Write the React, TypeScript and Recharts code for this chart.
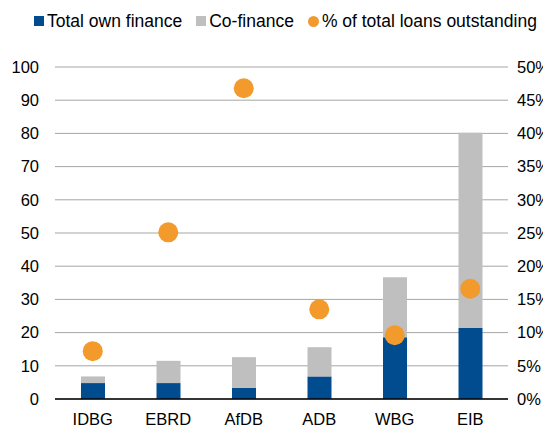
import React from 'react';
import { ComposedChart, Bar, Scatter, XAxis, YAxis, CartesianGrid } from 'recharts';

const banks = ['IDBG', 'EBRD', 'AfDB', 'ADB', 'WBG', 'EIB'];
const ownFinance = [4.8, 4.8, 3.4, 6.8, 18.6, 21.4];
const coFinance = [2.0, 6.7, 9.2, 8.8, 18.1, 58.8];
const shareOfLoans = [7.2, 25.1, 46.8, 13.5, 9.6, 16.6];

const leftTicks = [0, 10, 20, 30, 40, 50, 60, 70, 80, 90, 100];
const rightTicks = [0, 5, 10, 15, 20, 25, 30, 35, 40, 45, 50];

const BLUE = '#004C8F';
const GREY = '#BFBFBF';
const ORANGE = '#F39A2C';
const FONT = 'Liberation Sans, Arial, sans-serif';

const data = banks.map((name, i) => ({
  name,
  own: ownFinance[i],
  co: coFinance[i],
  pct: shareOfLoans[i],
}));

const Dot = (props: any) => {
  if (props.cx == null || props.cy == null) return null;
  return <circle cx={props.cx} cy={props.cy} r={10} fill={ORANGE} />;
};

const legendItems = [
  { label: 'Total own finance', color: BLUE, round: false },
  { label: 'Co-finance', color: GREY, round: false },
  { label: '% of total loans outstanding', color: ORANGE, round: true },
];

const tickStyle = { fill: '#000', fontSize: 16.5, fontFamily: FONT };

export default function App() {
  return (
    <div
      style={{
        position: 'fixed',
        left: 0,
        top: 0,
        width: 543,
        height: 427,
        overflow: 'hidden',
        background: '#fff',
        fontFamily: FONT,
      }}
    >
      <div
        style={{
          position: 'absolute',
          left: 34,
          top: 11,
          height: 20,
          display: 'flex',
          alignItems: 'center',
          whiteSpace: 'nowrap',
          fontSize: 17.5,
          color: '#000',
        }}
      >
        {legendItems.map((item, i) => (
          <span key={item.label} style={{ display: 'flex', alignItems: 'center', marginRight: i < 2 ? 14 : 0 }}>
            <span
              style={{
                display: 'inline-block',
                width: item.round ? 11 : 10,
                height: item.round ? 11 : 10,
                borderRadius: item.round ? '50%' : 0,
                background: item.color,
                marginRight: 3,
              }}
            />
            {item.label}
          </span>
        ))}
      </div>
      <ComposedChart
        width={580}
        height={427}
        data={data}
        margin={{ top: 67, right: 0, left: 0, bottom: 0 }}
      >
        <CartesianGrid vertical={false} stroke="#A6A6A6" strokeWidth={1} yAxisId="left" />
        <XAxis
          dataKey="name"
          height={28}
          tickLine={false}
          axisLine={{ stroke: '#000', strokeWidth: 1.5 }}
          tickSize={4}
          tickMargin={10}
          tick={tickStyle}
          interval={0}
        />
        <YAxis
          yAxisId="left"
          width={55}
          domain={[0, 100]}
          ticks={leftTicks}
          axisLine={false}
          tickLine={false}
          tickSize={0}
          tickMargin={16}
          tick={tickStyle}
        />
        <YAxis
          yAxisId="right"
          orientation="right"
          width={72}
          domain={[0, 50]}
          ticks={rightTicks}
          axisLine={false}
          tickLine={false}
          tickSize={0}
          tickMargin={9}
          tick={tickStyle}
          tickFormatter={(v: number) => `${v}%`}
        />
        <Bar yAxisId="left" dataKey="own" stackId="a" fill={BLUE} barSize={24} isAnimationActive={false} />
        <Bar yAxisId="left" dataKey="co" stackId="a" fill={GREY} barSize={24} isAnimationActive={false} />
        <Scatter yAxisId="right" dataKey="pct" fill={ORANGE} shape={Dot} isAnimationActive={false} />
      </ComposedChart>
    </div>
  );
}
